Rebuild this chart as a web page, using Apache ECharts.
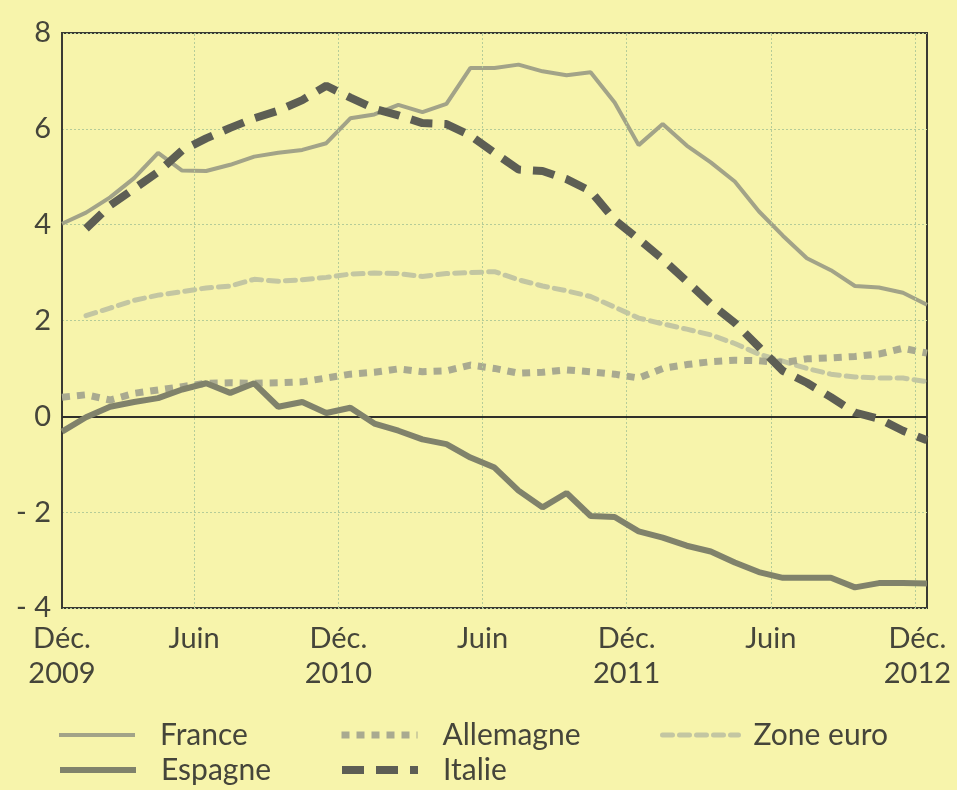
<!DOCTYPE html>
<html><head><meta charset="utf-8">
<script src="https://cdn.jsdelivr.net/npm/echarts@6/dist/echarts.min.js"></script>
<style>html,body{margin:0;padding:0;background:#f7f4ab;} #c{width:957px;height:790px;}</style>
</head><body><div id="c"></div>
<script>
// Monthly values, Dec 2009 (index 0) to Dec 2012 (index 36)
const france = [4.02,4.25,4.57,4.97,5.5,5.13,5.12,5.25,5.42,5.5,5.56,5.7,6.22,6.3,6.5,6.35,6.52,7.27,7.27,7.34,7.2,7.12,7.18,6.55,5.66,6.1,5.65,5.3,4.9,4.28,3.77,3.3,3.05,2.72,2.69,2.58,2.33];
const espagne = [-0.32,-0.02,0.2,0.3,0.38,0.56,0.69,0.49,0.69,0.2,0.3,0.07,0.18,-0.15,-0.3,-0.48,-0.58,-0.86,-1.07,-1.55,-1.9,-1.6,-2.08,-2.1,-2.4,-2.53,-2.7,-2.82,-3.05,-3.25,-3.37,-3.37,-3.37,-3.57,-3.48,-3.48,-3.49];
const allemagne = [0.4,0.45,0.34,0.48,0.55,0.62,0.69,0.7,0.69,0.7,0.72,0.8,0.88,0.92,0.99,0.93,0.95,1.07,1.0,0.9,0.92,0.97,0.93,0.88,0.8,1.0,1.08,1.14,1.17,1.16,1.12,1.2,1.22,1.25,1.3,1.42,1.32];
const italie = [null,3.92,4.4,4.75,5.1,5.55,5.8,6.02,6.22,6.38,6.6,6.9,6.65,6.42,6.28,6.12,6.1,5.86,5.5,5.15,5.12,4.95,4.7,4.1,3.7,3.28,2.82,2.35,1.95,1.45,0.95,0.7,0.4,0.08,-0.05,-0.3,-0.5];
const zoneEuro = [null,2.1,2.26,2.42,2.53,2.6,2.68,2.72,2.86,2.82,2.85,2.9,2.97,2.99,2.98,2.92,2.98,3.0,3.02,2.85,2.72,2.62,2.5,2.28,2.05,1.93,1.82,1.7,1.52,1.3,1.15,1.0,0.88,0.82,0.8,0.8,0.72];
const tickValues = [0, 5.5, 11.5, 17.5, 23.5, 29.5, 35.6];
const tickLabels = ['Déc.\n2009','Juin','Déc.\n2010','Juin','Déc.\n2011','Juin','Déc.\n2012'];
const gridLineValues = [5.5, 11.5, 17.5, 23.5, 29.5, 35.5];

const pairs = arr => arr.map((v,i) => [i, v]);
const TXT = '#45453a';
const FONT = 'Lato';

const styles = {
  'France':    {color:'#a2a388', width:4, type:'solid'},
  'Espagne':   {color:'#80826b', width:6, type:'solid'},
  'Allemagne': {color:'#a9aa90', width:7, type:[8,7]},
  'Italie':    {color:'#5d5e54', width:8, type:[22,12]},
  'Zone euro': {color:'#c3c6a2', width:5, type:[10,7], cap:'round'}
};

const chart = echarts.init(document.getElementById('c'), null, {renderer:'canvas'});
function leg(name, left, top, gap) {
  const s = styles[name];
  return {data:[name], left:left, top:top, padding:0, orient:'horizontal', itemWidth:76, itemHeight:16,
    selectedMode:false,
    lineStyle:{color:s.color, width:s.width, type:s.type, cap:s.cap||'butt'},
    itemStyle:{opacity:0, borderWidth:0},
    textStyle:{fontFamily:FONT, fontSize:30, color:TXT, padding:[0,0,0,gap]}};
}
function ser(name, data, z, extra) {
  const s = styles[name];
  return Object.assign({name:name, type:'line', data:pairs(data), symbol:'none', z:z,
    lineStyle:{color:s.color, width:s.width, type:s.type, cap:s.cap||'butt'}, itemStyle:{color:s.color}}, extra||{});
}
chart.setOption({
  backgroundColor:'#f7f4ab',
  animation:false,
  grid:{left:62, right:30, top:33, bottom:182, show:true, borderColor:'#3a3a33', borderWidth:2, backgroundColor:'transparent'},
  legend:[
    leg('France',57,720,20), leg('Allemagne',338,720,20), leg('Zone euro',660,720,10),
    leg('Espagne',57,755,20), leg('Italie',338,755,20)
  ],
  xAxis:{type:'value', min:0, max:36,
    axisLine:{show:false}, axisTick:{show:false}, splitLine:{show:false},
    axisLabel:{customValues:tickValues, formatter:(v)=>{const i=tickValues.indexOf(v);return i>=0?tickLabels[i]:'';},
      fontFamily:FONT, fontSize:29, lineHeight:35, color:TXT, margin:13, showMinLabel:true, showMaxLabel:true}
  },
  yAxis:{type:'value', min:-4, max:8, interval:2,
    axisLine:{show:true, lineStyle:{color:'#3a3a33', width:2}}, axisTick:{show:false},
    splitLine:{show:true, lineStyle:{color:'#b5cc98', type:[2,2], width:1}},
    axisLabel:{fontFamily:FONT, fontSize:29, color:TXT, margin:11, formatter:v=> v<0 ? '- '+Math.abs(v) : String(v)}
  },
  series:[
    ser('Zone euro', zoneEuro, 2, {markLine:{silent:true, symbol:'none', label:{show:false},
        lineStyle:{color:'#b5cc98', type:[2,2], width:1},
        data:gridLineValues.map(v=>({xAxis:v}))}}),
    ser('Allemagne', allemagne, 3),
    ser('France', france, 4, {markLine:{silent:true, symbol:'none', label:{show:false},
        lineStyle:{color:'#2f2f2a', type:'solid', width:2},
        data:[{yAxis:0}]}}),
    ser('Espagne', espagne, 5),
    ser('Italie', italie, 6)
  ]
});
</script></body></html>
